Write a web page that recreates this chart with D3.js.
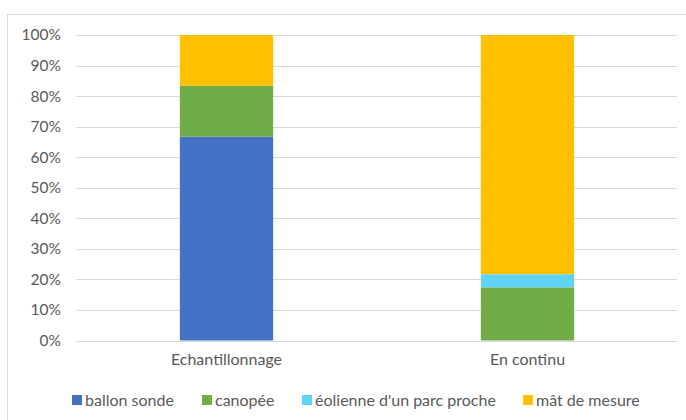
<!DOCTYPE html>
<html><head><meta charset="utf-8">
<script src="https://cdn.jsdelivr.net/npm/d3@7"></script>
<style>body{margin:0;background:#fff;} text{font-family:Lato,"Open Sans",sans-serif;fill:#595959;}</style>
</head><body><svg id="c" width="686" height="420"></svg>
<script>
const categories = ["Echantillonnage", "En continu"];
const seriesNames = ["ballon sonde", "canopée", "éolienne d'un parc proche", "mât de mesure"];
const ballonSonde = [66.7, 0];
const canopee = [16.7, 17.4];
const eolienne = [0, 4.3];
const matMesure = [16.6, 78.3];
const tickValues = [0, 10, 20, 30, 40, 50, 60, 70, 80, 90, 100];
const colors = ["#4472C4", "#70AD47", "#5FD3F8", "#FFC000"];

const svg = d3.select("#c");
svg.append("rect").attr("x", 7.5).attr("y", 14.5).attr("width", 690).attr("height", 420)
  .attr("fill", "#fff").attr("stroke", "#d9d9d9");

const x = d3.scaleBand().domain(categories).range([76, 678]).paddingInner(0.69).paddingOuter(0.345);
const y = d3.scaleLinear().domain([0, 100]).range([340.5, 35]);

const gy = svg.append("g");
gy.selectAll("line").data(tickValues).join("line")
  .attr("x1", 76).attr("x2", 677).attr("y1", d => Math.round(y(d)) + 0.5).attr("y2", d => Math.round(y(d)) + 0.5)
  .attr("stroke", "#d9d9d9").attr("stroke-width", 1);
gy.selectAll("text").data(tickValues).join("text")
  .attr("x", 61).attr("y", d => y(d)).attr("dy", "0.35em").attr("text-anchor", "end")
  .attr("font-size", 15.5).text(d => d + "%");

const rows = categories.map((c, i) => ({cat: c, [seriesNames[0]]: ballonSonde[i], [seriesNames[1]]: canopee[i], [seriesNames[2]]: eolienne[i], [seriesNames[3]]: matMesure[i]}));
const stacked = d3.stack().keys(seriesNames)(rows);
svg.append("g").selectAll("g").data(stacked).join("g").attr("fill", (d, i) => colors[i])
  .selectAll("rect").data(d => d).join("rect")
  .attr("x", d => x(d.data.cat)).attr("width", x.bandwidth())
  .attr("y", d => y(d[1])).attr("height", d => y(d[0]) - y(d[1]));

svg.append("g").selectAll("text").data(categories).join("text")
  .attr("x", d => x(d) + x.bandwidth() / 2).attr("y", 359).attr("dy", "0.35em").attr("text-anchor", "middle")
  .attr("font-size", 16).text(d => d);

const legX = [72, 202, 302, 523];
const lg = svg.append("g").selectAll("g").data(seriesNames).join("g")
  .attr("transform", (d, i) => `translate(${legX[i]},400)`);
lg.append("rect").attr("x", 0).attr("y", -5).attr("width", 10).attr("height", 10).attr("fill", (d, i) => colors[i]);
lg.append("text").attr("x", 13).attr("y", 0).attr("dy", "0.35em").attr("font-size", 16).text(d => d);
</script></body></html>
